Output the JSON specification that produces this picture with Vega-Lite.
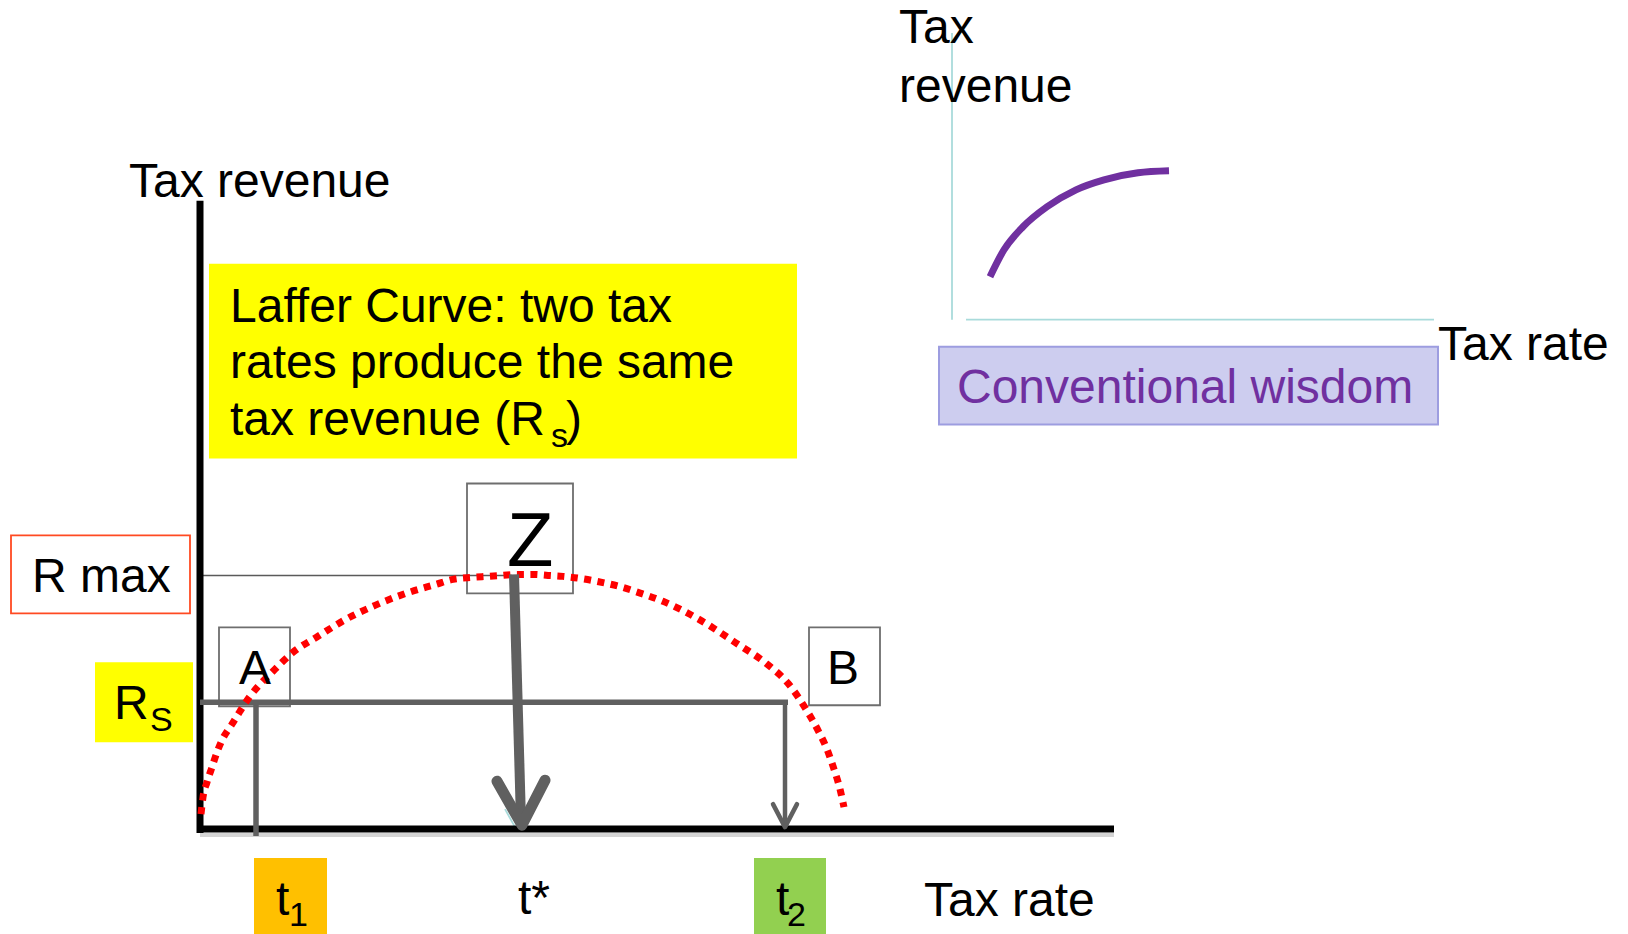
{
"$schema":"https://vega.github.io/schema/vega-lite/v6.json",
"width":1628,"height":934,
"autosize":{"type":"fit","contains":"padding"},
"padding":0,
"background":"#ffffff",
"config":{"view":{"stroke":null}},
"datasets":{
"panels":[
{"name":"note","x":210,"x2":796,"y":265,"y2":458},
{"name":"rs","x":96,"x2":192,"y":664,"y2":742},
{"name":"t1","x":255,"x2":326,"y":860,"y2":934},
{"name":"t2","x":755,"x2":825,"y":860,"y2":934},
{"name":"conv","x":939,"x2":1438,"y":347,"y2":425}
],
"frames":[
{"name":"rmax","x":11,"x2":190,"y":536,"y2":614},
{"name":"A","x":219,"x2":290,"y":628,"y2":707},
{"name":"Z","x":467,"x2":573,"y":484,"y2":594},
{"name":"B","x":809,"x2":880,"y":628,"y2":706}
],
"segs":[
{"kind":"cyan","x":952,"y":33,"x2":952,"y2":320},
{"kind":"cyan","x":966,"y":320,"x2":1434,"y2":320},
{"kind":"cyan","x":505,"y":810,"x2":515,"y2":828},
{"kind":"thin","x":201,"y":576,"x2":512,"y2":576},
{"kind":"shadow","x":200,"y":836,"x2":1114,"y2":836},
{"kind":"axis","x":200,"y":201,"x2":200,"y2":834},
{"kind":"axis","x":197,"y":830,"x2":1114,"y2":830},
{"kind":"gray","x":200,"y":703,"x2":788,"y2":703},
{"kind":"gray","x":256,"y":703,"x2":256,"y2":837},
{"kind":"t2shaft","x":785,"y":703,"x2":785,"y2":826},
{"kind":"zshaft","x":514,"y":575,"x2":521,"y2":822}
],
"paths":[
{"id":"laffer","i":0,"x":201,"y":815},
{"id":"laffer","i":1,"x":203,"y":798},
{"id":"laffer","i":2,"x":207,"y":783},
{"id":"laffer","i":3,"x":212,"y":768},
{"id":"laffer","i":4,"x":217,"y":753},
{"id":"laffer","i":5,"x":223,"y":739},
{"id":"laffer","i":6,"x":232,"y":725},
{"id":"laffer","i":7,"x":240,"y":712},
{"id":"laffer","i":8,"x":250,"y":697},
{"id":"laffer","i":9,"x":260,"y":685},
{"id":"laffer","i":10,"x":272,"y":673},
{"id":"laffer","i":11,"x":282,"y":663},
{"id":"laffer","i":12,"x":293,"y":653},
{"id":"laffer","i":13,"x":318,"y":637},
{"id":"laffer","i":14,"x":344,"y":621},
{"id":"laffer","i":15,"x":375,"y":606},
{"id":"laffer","i":16,"x":406,"y":594},
{"id":"laffer","i":17,"x":436,"y":585},
{"id":"laffer","i":18,"x":453,"y":580},
{"id":"laffer","i":19,"x":472,"y":578},
{"id":"laffer","i":20,"x":487,"y":577},
{"id":"laffer","i":21,"x":502,"y":576},
{"id":"laffer","i":22,"x":517,"y":575},
{"id":"laffer","i":23,"x":533,"y":575},
{"id":"laffer","i":24,"x":548,"y":576},
{"id":"laffer","i":25,"x":563,"y":577},
{"id":"laffer","i":26,"x":580,"y":579},
{"id":"laffer","i":27,"x":597,"y":582},
{"id":"laffer","i":28,"x":619,"y":587},
{"id":"laffer","i":29,"x":641,"y":594},
{"id":"laffer","i":30,"x":663,"y":602},
{"id":"laffer","i":31,"x":699,"y":620},
{"id":"laffer","i":32,"x":735,"y":643},
{"id":"laffer","i":33,"x":766,"y":664},
{"id":"laffer","i":34,"x":788,"y":684},
{"id":"laffer","i":35,"x":806,"y":710},
{"id":"laffer","i":36,"x":819,"y":733},
{"id":"laffer","i":37,"x":827,"y":750},
{"id":"laffer","i":38,"x":833,"y":767},
{"id":"laffer","i":39,"x":840,"y":790},
{"id":"laffer","i":40,"x":844,"y":808},
{"id":"arc","i":0,"x":990,"y":277},
{"id":"arc","i":1,"x":1004,"y":250},
{"id":"arc","i":2,"x":1023,"y":227},
{"id":"arc","i":3,"x":1047,"y":207},
{"id":"arc","i":4,"x":1076,"y":190},
{"id":"arc","i":5,"x":1104,"y":180},
{"id":"arc","i":6,"x":1138,"y":173},
{"id":"arc","i":7,"x":1169,"y":171},
{"id":"zhead","i":0,"x":497,"y":782},
{"id":"zhead","i":1,"x":522,"y":826},
{"id":"zhead","i":2,"x":545,"y":781},
{"id":"t2head","i":0,"x":773,"y":805},
{"id":"t2head","i":1,"x":785,"y":828},
{"id":"t2head","i":2,"x":797,"y":805}
],
"labels":[
{"role":"main","label":"Tax revenue","x":129,"y":197},
{"role":"main","label":"Laffer Curve: two tax","x":230,"y":322},
{"role":"main","label":"rates produce the same","x":230,"y":378},
{"role":"main","label":"tax revenue (R","x":230,"y":435},
{"role":"main","label":")","x":566,"y":435},
{"role":"main","label":"R max","x":32,"y":593},
{"role":"main","label":"R","x":114,"y":720},
{"role":"main","label":"A","x":239,"y":685},
{"role":"main","label":"B","x":827,"y":685},
{"role":"main","label":"t","x":276,"y":916},
{"role":"main","label":"t*","x":518,"y":915},
{"role":"main","label":"t","x":776,"y":916},
{"role":"main","label":"Tax rate","x":924,"y":917},
{"role":"main","label":"Tax","x":899,"y":43},
{"role":"main","label":"revenue","x":899,"y":102},
{"role":"main","label":"Tax rate","x":1438,"y":360},
{"role":"big","label":"Z","x":507,"y":567},
{"role":"sub","label":"s","x":551,"y":447},
{"role":"sub","label":"S","x":150,"y":732},
{"role":"sub","label":"1","x":289,"y":927},
{"role":"sub","label":"2","x":787,"y":927},
{"role":"purple","label":"Conventional wisdom","x":957,"y":403}
]
},
"resolve":{"scale":{"fill":"independent","stroke":"independent"}},
"layer":[
{"data":{"name":"panels"},"mark":{"type":"rect","strokeWidth":2},
"encoding":{
"x":{"field":"x","type":"quantitative","scale":{"domain":[0,1628],"nice":false,"zero":false},"axis":null},
"x2":{"field":"x2"},
"y":{"field":"y","type":"quantitative","scale":{"domain":[0,934],"nice":false,"zero":false,"reverse":true},"axis":null},
"y2":{"field":"y2"},
"fill":{"field":"name","type":"nominal","scale":{"domain":["note","rs","t1","t2","conv"],"range":["#FFFF00","#FFFF00","#FFC000","#92D050","#CDCDEF"]},"legend":null},
"stroke":{"field":"name","type":"nominal","scale":{"domain":["note","rs","t1","t2","conv"],"range":["#FFFF00","#FFFF00","#FFC000","#92D050","#9D9DE0"]},"legend":null}
}},
{"data":{"name":"frames"},"mark":{"type":"rect","filled":false,"strokeWidth":1.8},
"encoding":{
"x":{"field":"x","type":"quantitative","scale":{"domain":[0,1628],"nice":false,"zero":false},"axis":null},
"x2":{"field":"x2"},
"y":{"field":"y","type":"quantitative","scale":{"domain":[0,934],"nice":false,"zero":false,"reverse":true},"axis":null},
"y2":{"field":"y2"},
"stroke":{"field":"name","type":"nominal","scale":{"domain":["rmax","A","Z","B"],"range":["#FF4A22","#6E6E6E","#6E6E6E","#6E6E6E"]},"legend":null}
}},
{"data":{"name":"segs"},"transform":[{"filter":"datum.kind==='cyan'"}],"mark":{"type":"rule","stroke":"#A9DBDB","strokeWidth":1.8},
"encoding":{
"x":{"field":"x","type":"quantitative","scale":{"domain":[0,1628],"nice":false,"zero":false},"axis":null},
"x2":{"field":"x2"},
"y":{"field":"y","type":"quantitative","scale":{"domain":[0,934],"nice":false,"zero":false,"reverse":true},"axis":null},
"y2":{"field":"y2"}
}},
{"data":{"name":"segs"},"transform":[{"filter":"datum.kind==='thin'"}],"mark":{"type":"rule","stroke":"#5A5A5A","strokeWidth":1.5},
"encoding":{
"x":{"field":"x","type":"quantitative","scale":{"domain":[0,1628],"nice":false,"zero":false},"axis":null},
"x2":{"field":"x2"},
"y":{"field":"y","type":"quantitative","scale":{"domain":[0,934],"nice":false,"zero":false,"reverse":true},"axis":null},
"y2":{"field":"y2"}
}},
{"data":{"name":"segs"},"transform":[{"filter":"datum.kind==='shadow'"}],"mark":{"type":"rule","stroke":"#AAAAAA","strokeWidth":4,"opacity":0.5},
"encoding":{
"x":{"field":"x","type":"quantitative","scale":{"domain":[0,1628],"nice":false,"zero":false},"axis":null},
"x2":{"field":"x2"},
"y":{"field":"y","type":"quantitative","scale":{"domain":[0,934],"nice":false,"zero":false,"reverse":true},"axis":null},
"y2":{"field":"y2"}
}},
{"data":{"name":"segs"},"transform":[{"filter":"datum.kind==='axis'"}],"mark":{"type":"rule","stroke":"#000000","strokeWidth":7},
"encoding":{
"x":{"field":"x","type":"quantitative","scale":{"domain":[0,1628],"nice":false,"zero":false},"axis":null},
"x2":{"field":"x2"},
"y":{"field":"y","type":"quantitative","scale":{"domain":[0,934],"nice":false,"zero":false,"reverse":true},"axis":null},
"y2":{"field":"y2"}
}},
{"data":{"name":"segs"},"transform":[{"filter":"datum.kind==='gray'"}],"mark":{"type":"rule","stroke":"#606060","strokeWidth":5.5},
"encoding":{
"x":{"field":"x","type":"quantitative","scale":{"domain":[0,1628],"nice":false,"zero":false},"axis":null},
"x2":{"field":"x2"},
"y":{"field":"y","type":"quantitative","scale":{"domain":[0,934],"nice":false,"zero":false,"reverse":true},"axis":null},
"y2":{"field":"y2"}
}},
{"data":{"name":"segs"},"transform":[{"filter":"datum.kind==='t2shaft'"}],"mark":{"type":"rule","stroke":"#606060","strokeWidth":4.5},
"encoding":{
"x":{"field":"x","type":"quantitative","scale":{"domain":[0,1628],"nice":false,"zero":false},"axis":null},
"x2":{"field":"x2"},
"y":{"field":"y","type":"quantitative","scale":{"domain":[0,934],"nice":false,"zero":false,"reverse":true},"axis":null},
"y2":{"field":"y2"}
}},
{"data":{"name":"paths"},"transform":[{"filter":"datum.id==='laffer'"}],"mark":{"type":"line","stroke":"#FF0000","strokeWidth":7,"strokeDash":[7,6.5],"interpolate":"monotone"},
"encoding":{
"x":{"field":"x","type":"quantitative","scale":{"domain":[0,1628],"nice":false,"zero":false},"axis":null},
"y":{"field":"y","type":"quantitative","scale":{"domain":[0,934],"nice":false,"zero":false,"reverse":true},"axis":null},
"order":{"field":"i","type":"quantitative"}
}},
{"data":{"name":"segs"},"transform":[{"filter":"datum.kind==='zshaft'"}],"mark":{"type":"rule","stroke":"#606060","strokeWidth":10},
"encoding":{
"x":{"field":"x","type":"quantitative","scale":{"domain":[0,1628],"nice":false,"zero":false},"axis":null},
"x2":{"field":"x2"},
"y":{"field":"y","type":"quantitative","scale":{"domain":[0,934],"nice":false,"zero":false,"reverse":true},"axis":null},
"y2":{"field":"y2"}
}},
{"data":{"name":"paths"},"transform":[{"filter":"datum.id==='zhead'"}],"mark":{"type":"line","stroke":"#606060","strokeWidth":11,"strokeCap":"round","strokeJoin":"round"},
"encoding":{
"x":{"field":"x","type":"quantitative","scale":{"domain":[0,1628],"nice":false,"zero":false},"axis":null},
"y":{"field":"y","type":"quantitative","scale":{"domain":[0,934],"nice":false,"zero":false,"reverse":true},"axis":null},
"order":{"field":"i","type":"quantitative"}
}},
{"data":{"name":"paths"},"transform":[{"filter":"datum.id==='t2head'"}],"mark":{"type":"line","stroke":"#606060","strokeWidth":4.5,"strokeCap":"round","strokeJoin":"round"},
"encoding":{
"x":{"field":"x","type":"quantitative","scale":{"domain":[0,1628],"nice":false,"zero":false},"axis":null},
"y":{"field":"y","type":"quantitative","scale":{"domain":[0,934],"nice":false,"zero":false,"reverse":true},"axis":null},
"order":{"field":"i","type":"quantitative"}
}},
{"data":{"name":"paths"},"transform":[{"filter":"datum.id==='arc'"}],"mark":{"type":"line","stroke":"#7030A0","strokeWidth":7,"interpolate":"monotone"},
"encoding":{
"x":{"field":"x","type":"quantitative","scale":{"domain":[0,1628],"nice":false,"zero":false},"axis":null},
"y":{"field":"y","type":"quantitative","scale":{"domain":[0,934],"nice":false,"zero":false,"reverse":true},"axis":null},
"order":{"field":"i","type":"quantitative"}
}},
{"data":{"name":"labels"},"transform":[{"filter":"datum.role==='main'"}],"mark":{"type":"text","align":"left","baseline":"alphabetic","font":"Liberation Sans","fontSize":48,"color":"#000000"},
"encoding":{
"x":{"field":"x","type":"quantitative","scale":{"domain":[0,1628],"nice":false,"zero":false},"axis":null},
"y":{"field":"y","type":"quantitative","scale":{"domain":[0,934],"nice":false,"zero":false,"reverse":true},"axis":null},
"text":{"field":"label"}
}},
{"data":{"name":"labels"},"transform":[{"filter":"datum.role==='big'"}],"mark":{"type":"text","align":"left","baseline":"alphabetic","font":"Liberation Sans","fontSize":76,"color":"#000000"},
"encoding":{
"x":{"field":"x","type":"quantitative","scale":{"domain":[0,1628],"nice":false,"zero":false},"axis":null},
"y":{"field":"y","type":"quantitative","scale":{"domain":[0,934],"nice":false,"zero":false,"reverse":true},"axis":null},
"text":{"field":"label"}
}},
{"data":{"name":"labels"},"transform":[{"filter":"datum.role==='sub'"}],"mark":{"type":"text","align":"left","baseline":"alphabetic","font":"Liberation Sans","fontSize":34,"color":"#000000"},
"encoding":{
"x":{"field":"x","type":"quantitative","scale":{"domain":[0,1628],"nice":false,"zero":false},"axis":null},
"y":{"field":"y","type":"quantitative","scale":{"domain":[0,934],"nice":false,"zero":false,"reverse":true},"axis":null},
"text":{"field":"label"}
}},
{"data":{"name":"labels"},"transform":[{"filter":"datum.role==='purple'"}],"mark":{"type":"text","align":"left","baseline":"alphabetic","font":"Liberation Sans","fontSize":48,"color":"#7030A0"},
"encoding":{
"x":{"field":"x","type":"quantitative","scale":{"domain":[0,1628],"nice":false,"zero":false},"axis":null},
"y":{"field":"y","type":"quantitative","scale":{"domain":[0,934],"nice":false,"zero":false,"reverse":true},"axis":null},
"text":{"field":"label"}
}}
]
}
